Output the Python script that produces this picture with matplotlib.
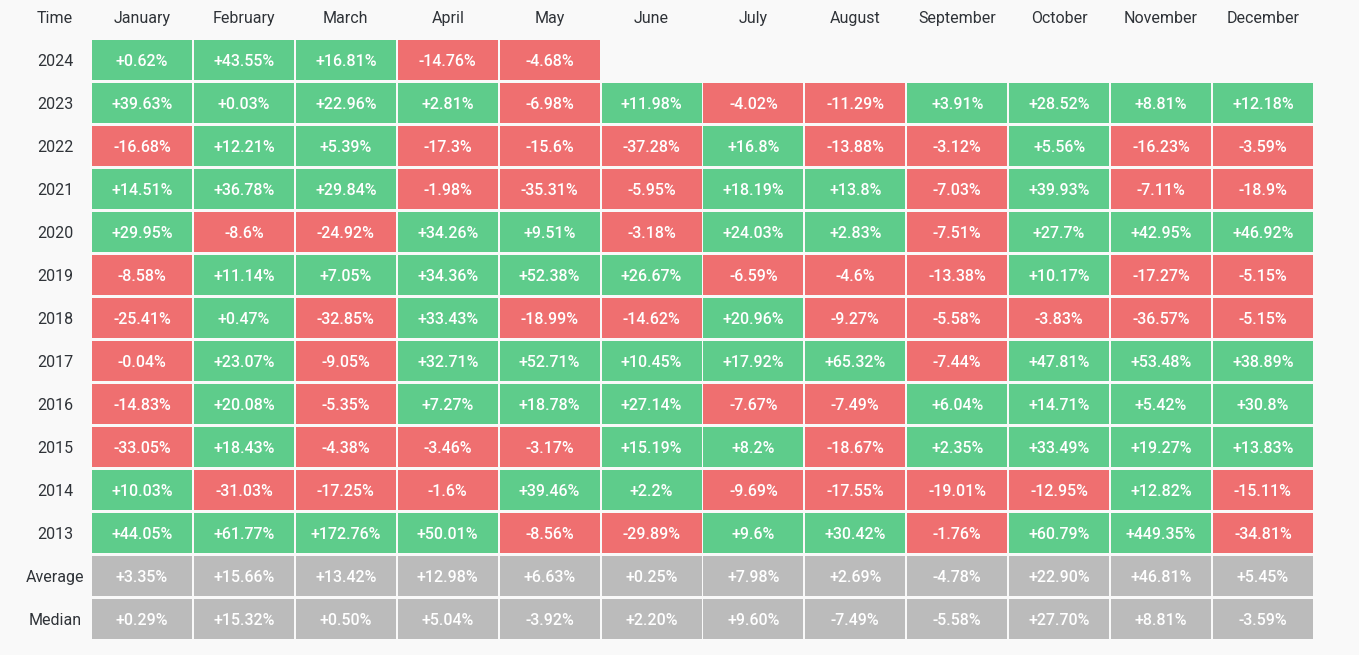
import matplotlib
matplotlib.use("Agg")
import matplotlib.pyplot as plt
from matplotlib.patches import Rectangle

months = ["January", "February", "March", "April", "May", "June", "July",
          "August", "September", "October", "November", "December"]
years = ["2024", "2023", "2022", "2021", "2020", "2019", "2018", "2017",
         "2016", "2015", "2014", "2013"]

r2024 = [0.62, 43.55, 16.81, -14.76, -4.68]
r2023 = [39.63, 0.03, 22.96, 2.81, -6.98, 11.98, -4.02, -11.29, 3.91, 28.52, 8.81, 12.18]
r2022 = [-16.68, 12.21, 5.39, -17.3, -15.6, -37.28, 16.8, -13.88, -3.12, 5.56, -16.23, -3.59]
r2021 = [14.51, 36.78, 29.84, -1.98, -35.31, -5.95, 18.19, 13.8, -7.03, 39.93, -7.11, -18.9]
r2020 = [29.95, -8.6, -24.92, 34.26, 9.51, -3.18, 24.03, 2.83, -7.51, 27.7, 42.95, 46.92]
r2019 = [-8.58, 11.14, 7.05, 34.36, 52.38, 26.67, -6.59, -4.6, -13.38, 10.17, -17.27, -5.15]
r2018 = [-25.41, 0.47, -32.85, 33.43, -18.99, -14.62, 20.96, -9.27, -5.58, -3.83, -36.57, -5.15]
r2017 = [-0.04, 23.07, -9.05, 32.71, 52.71, 10.45, 17.92, 65.32, -7.44, 47.81, 53.48, 38.89]
r2016 = [-14.83, 20.08, -5.35, 7.27, 18.78, 27.14, -7.67, -7.49, 6.04, 14.71, 5.42, 30.8]
r2015 = [-33.05, 18.43, -4.38, -3.46, -3.17, 15.19, 8.2, -18.67, 2.35, 33.49, 19.27, 13.83]
r2014 = [10.03, -31.03, -17.25, -1.6, 39.46, 2.2, -9.69, -17.55, -19.01, -12.95, 12.82, -15.11]
r2013 = [44.05, 61.77, 172.76, 50.01, -8.56, -29.89, 9.6, 30.42, -1.76, 60.79, 449.35, -34.81]

average = [3.35, 15.66, 13.42, 12.98, 6.63, 0.25, 7.98, 2.69, -4.78, 22.90, 46.81, 5.45]
median = [0.29, 15.32, 0.50, 5.04, -3.92, 2.20, 9.60, -7.49, -5.58, 27.70, 8.81, -3.59]

year_rows = [r2024, r2023, r2022, r2021, r2020, r2019, r2018, r2017,
             r2016, r2015, r2014, r2013]

GREEN = "#5ecc8b"
RED = "#ef6f70"
GRAY = "#bbbbbb"
BG = "#f9f9f9"
LABEL = "#2f3338"
FONT = ["Roboto", "DejaVu Sans"]

fig = plt.figure(figsize=(13.59, 6.55), dpi=100, facecolor=BG)
ax = fig.add_axes([0, 0, 1, 1])
ax.set_facecolor(BG)
ax.axis("off")

# geometry (pixels -> cell index units)
x0, pitch_x, w_px = 92.0, 101.9, 100.0
y0, pitch_y, h_px = 40.0, 43.0, 40.0
ax.set_xlim(-x0 / pitch_x, (1359 - x0) / pitch_x)
ax.set_ylim((655 - y0) / pitch_y, -y0 / pitch_y)
cw = w_px / pitch_x
ch = h_px / pitch_y
dy = 1.5 / pitch_y  # slight downward text shift

fs = 11.5
fw = 500

# header
ax.text((55 - x0) / pitch_x, (17 - y0) / pitch_y + dy, "Time", ha="center", va="center",
        fontsize=fs, color=LABEL, family=FONT)
for j, m in enumerate(months):
    ax.text(j + cw / 2, (17 - y0) / pitch_y + dy, m, ha="center", va="center",
            fontsize=fs, color=LABEL, family=FONT)

label_x = (55 - x0) / pitch_x

def fmt_year(v):
    return "{:+g}%".format(v)

def fmt_stat(v):
    return "{:+.2f}%".format(v)

for r, (yr, vals) in enumerate(zip(years, year_rows)):
    ax.text(label_x, r + ch / 2 + dy, yr, ha="center", va="center",
            fontsize=fs, color=LABEL, family=FONT)
    for j, v in enumerate(vals):
        ax.add_patch(Rectangle((j, r), cw, ch, facecolor=GREEN if v >= 0 else RED,
                               edgecolor="none"))
        ax.text(j + cw / 2, r + ch / 2 + dy, fmt_year(v), ha="center", va="center",
                fontsize=fs, color="white", family=FONT, fontweight=fw)

for k, (name, vals) in enumerate([("Average", average), ("Median", median)]):
    r = len(years) + k
    ax.text(label_x, r + ch / 2 + dy, name, ha="center", va="center",
            fontsize=fs, color=LABEL, family=FONT)
    for j, v in enumerate(vals):
        ax.add_patch(Rectangle((j, r), cw, ch, facecolor=GRAY, edgecolor="none"))
        ax.text(j + cw / 2, r + ch / 2 + dy, fmt_stat(v), ha="center", va="center",
                fontsize=fs, color="white", family=FONT, fontweight=fw)

fig.savefig("out.png", dpi=100, facecolor=BG)
